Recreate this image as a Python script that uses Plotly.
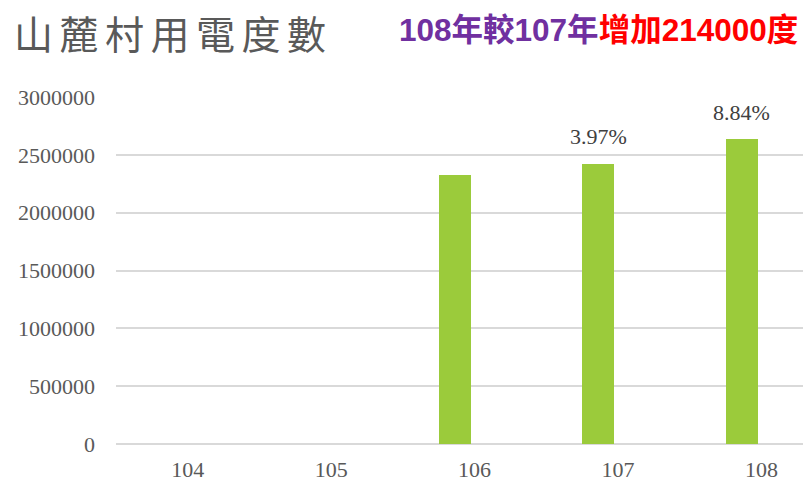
import plotly.graph_objects as go

years = ["104", "105", "106", "107", "108"]
usage = [None, None, 2328000, 2421000, 2635000]
growth_labels = ["", "", "", "3.97%", "8.84%"]
y_ticks = [0, 500000, 1000000, 1500000, 2000000, 2500000, 3000000]

W, H = 803, 482
L, R, T, B = 116, 0, 97, 34

serif = "Liberation Serif, DejaVu Serif, serif"
cjk = "Noto Sans CJK TC, Noto Sans CJK SC, sans-serif"

fig = go.Figure()
fig.add_trace(go.Bar(
    x=years, y=usage,
    marker=dict(color="#9BCB3B", line=dict(width=0)),
    width=0.225, offset=-0.25,
    cliponaxis=False,
    hoverinfo="x+y",
))

annotations = [dict(
    text="<b><span style='color:#7030A0'>108年較107年</span><span style='color:#FF0000'>增加214000度</span></b>",
    xref="paper", yref="paper",
    x=(397 - L) / (W - L - R), xanchor="left",
    y=(H - B - 29) / (H - T - B), yanchor="middle",
    showarrow=False,
    font=dict(family="Liberation Sans, Arial, " + cjk, size=31.5),
)]
for i, (yr, val, lab) in enumerate(zip(years, usage, growth_labels)):
    if lab and val is not None:
        annotations.append(dict(
            x=i - 0.137, y=val, xref="x", yref="y",
            text=lab, showarrow=False,
            yanchor="middle", yshift=27,
            font=dict(family=serif, size=22, color="#404040"),
        ))

title_text = "\u2006".join("山麓村用電度數")

fig.update_layout(
    width=W, height=H,
    margin=dict(l=L, r=R, t=T, b=B),
    paper_bgcolor="white", plot_bgcolor="white",
    showlegend=False,
    annotations=annotations,
    xaxis=dict(
        type="category",
        range=[-0.5, 4.29],
        showgrid=False, showline=False, zeroline=False,
        ticks="", ticklabelstandoff=10,
        tickfont=dict(family=serif, size=22, color="#595959"),
    ),
    yaxis=dict(
        range=[0, 3000000],
        tickvals=y_ticks,
        ticktext=[str(v) for v in y_ticks],
        showgrid=True, gridcolor="#D9D9D9", gridwidth=1.5,
        zeroline=True, zerolinecolor="#D9D9D9", zerolinewidth=1.5,
        showline=False, ticks="", ticklabelstandoff=20,
        tickfont=dict(family=serif, size=22, color="#595959"),
    ),
    bargap=0,
)
fig.add_annotation(
    text=title_text, xref="paper", yref="paper",
    x=(12 - L) / (W - L - R), xanchor="left",
    y=(H - B - 1) / (H - T - B), yanchor="top",
    showarrow=False,
    font=dict(family=cjk, size=39, color="#595959"),
)

fig.write_html("out.html", config={"displayModeBar": False},
               post_script="document.body.style.margin='0';")
